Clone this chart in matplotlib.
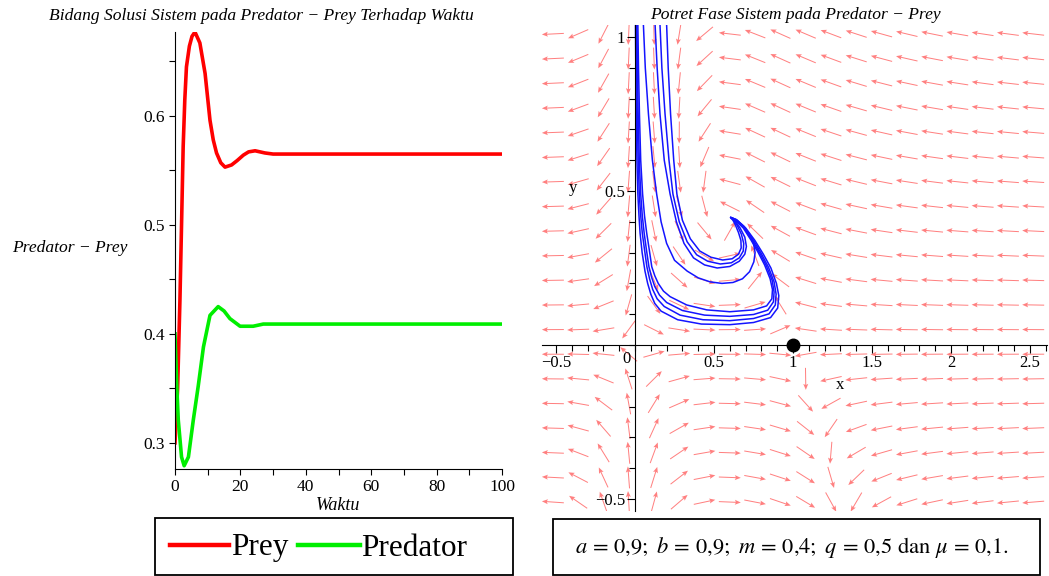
import numpy as np
import matplotlib.pyplot as plt
from matplotlib.patches import Rectangle
from matplotlib.lines import Line2D

plt.rcParams['font.family'] = 'Liberation Serif'
plt.rcParams['mathtext.fontset'] = 'stix'

# model parameters
a, b, m, q, mu = 0.9, 0.9, 0.4, 0.5, 0.1

# solution curves against time
t_prey = [0, 0.8, 1.5, 2.0, 2.5, 3.0, 3.5, 4.4, 5.2, 6.1, 7.6, 9.2, 10.7, 11.7, 12.7,
          14.0, 15.3, 17.3, 19.0, 20.9, 22.5, 24.5, 27.5, 30, 40, 60, 80, 100]
prey = [0.30, 0.35, 0.43, 0.50, 0.572, 0.615, 0.645, 0.664, 0.673, 0.677, 0.667, 0.639,
        0.596, 0.578, 0.566, 0.557, 0.553, 0.555, 0.559, 0.564, 0.567, 0.568, 0.566,
        0.565, 0.565, 0.565, 0.565, 0.565]
t_pred = [0, 0.5, 1.0, 2.0, 2.8, 4.1, 5.6, 7.1, 8.7, 10.7, 13.2, 15.0, 16.8, 19.9,
          23.9, 27, 40, 60, 80, 100]
predator = [0.40, 0.355, 0.321, 0.287, 0.279, 0.287, 0.321, 0.352, 0.388, 0.417, 0.425,
            0.421, 0.414, 0.407, 0.407, 0.409, 0.409, 0.409, 0.409, 0.409]

# phase trajectories (x = prey, y = predator)
traj_o1 = ([0.018, 0.022, 0.028, 0.036, 0.048, 0.06, 0.074, 0.09, 0.106, 0.125, 0.147, 0.18,
            0.222, 0.327, 0.454, 0.60, 0.75, 0.833, 0.866, 0.87, 0.855, 0.82, 0.78, 0.735,
            0.685, 0.635, 0.605],
           [1.04, 0.9, 0.75, 0.6, 0.49, 0.42, 0.363, 0.31, 0.254, 0.225, 0.2, 0.175, 0.157,
            0.13, 0.114, 0.108, 0.114, 0.127, 0.15, 0.18, 0.215, 0.26, 0.30, 0.34, 0.38,
            0.405, 0.414])
traj_o2 = ([0.012, 0.015, 0.02, 0.027, 0.036, 0.046, 0.058, 0.072, 0.088, 0.105, 0.125, 0.155,
            0.20, 0.30, 0.44, 0.60, 0.75, 0.84, 0.876, 0.88, 0.868, 0.832, 0.79, 0.742, 0.69,
            0.638, 0.607],
           [1.04, 0.9, 0.75, 0.6, 0.49, 0.42, 0.363, 0.31, 0.254, 0.22, 0.19, 0.162, 0.138,
            0.112, 0.097, 0.093, 0.099, 0.113, 0.14, 0.172, 0.21, 0.256, 0.298, 0.34, 0.38,
            0.406, 0.414])
traj_o3 = ([0.007, 0.01, 0.014, 0.02, 0.027, 0.036, 0.046, 0.06, 0.075, 0.092, 0.112, 0.14,
            0.185, 0.285, 0.43, 0.60, 0.75, 0.848, 0.888, 0.893, 0.88, 0.845, 0.80, 0.75,
            0.695, 0.64, 0.607],
           [1.04, 0.9, 0.75, 0.6, 0.49, 0.42, 0.363, 0.31, 0.254, 0.215, 0.18, 0.15, 0.125,
            0.097, 0.082, 0.079, 0.086, 0.101, 0.13, 0.165, 0.205, 0.252, 0.296, 0.34, 0.38,
            0.407, 0.414])
traj_o4 = ([0.003, 0.005, 0.008, 0.012, 0.018, 0.025, 0.032, 0.045, 0.063, 0.08, 0.1, 0.125,
            0.165, 0.27, 0.42, 0.60, 0.75, 0.858, 0.903, 0.91, 0.895, 0.86, 0.812, 0.758,
            0.70, 0.643, 0.608],
           [1.04, 0.9, 0.75, 0.6, 0.49, 0.42, 0.363, 0.3, 0.24, 0.2, 0.165, 0.135, 0.11,
            0.082, 0.068, 0.066, 0.073, 0.089, 0.12, 0.16, 0.2, 0.25, 0.295, 0.34, 0.38,
            0.407, 0.414])
traj_b = ([0.053, 0.065, 0.085, 0.11, 0.137, 0.165, 0.2, 0.25, 0.33, 0.40, 0.475, 0.55, 0.62,
           0.68, 0.725, 0.752, 0.76, 0.75, 0.725, 0.69, 0.65, 0.615],
          [1.04, 0.9, 0.75, 0.6, 0.49, 0.40, 0.33, 0.275, 0.24, 0.218, 0.205, 0.2, 0.203,
           0.215, 0.238, 0.27, 0.30, 0.33, 0.36, 0.385, 0.403, 0.412])
traj_c3 = ([0.127, 0.14, 0.158, 0.185, 0.222, 0.262, 0.31, 0.37, 0.44, 0.52, 0.60, 0.66,
            0.695, 0.705, 0.695, 0.665, 0.635, 0.612],
           [1.04, 0.9, 0.75, 0.6, 0.49, 0.40, 0.33, 0.283, 0.26, 0.25, 0.255, 0.272, 0.295,
            0.32, 0.35, 0.38, 0.402, 0.412])
traj_c2 = ([0.158, 0.17, 0.19, 0.215, 0.24, 0.28, 0.33, 0.39, 0.46, 0.54, 0.61, 0.66, 0.685,
            0.688, 0.673, 0.648, 0.625, 0.61],
           [1.04, 0.9, 0.75, 0.6, 0.49, 0.40, 0.335, 0.293, 0.272, 0.263, 0.267, 0.283,
            0.305, 0.33, 0.36, 0.387, 0.404, 0.412])
traj_c1 = ([0.20, 0.21, 0.225, 0.245, 0.265, 0.30, 0.35, 0.41, 0.48, 0.555, 0.615, 0.655,
            0.672, 0.67, 0.655, 0.635, 0.62, 0.608],
           [1.04, 0.9, 0.75, 0.6, 0.49, 0.405, 0.345, 0.305, 0.285, 0.276, 0.28, 0.295,
            0.315, 0.34, 0.365, 0.39, 0.405, 0.412])
trajectories = [traj_o1, traj_o2, traj_o3, traj_o4, traj_b, traj_c3, traj_c2, traj_c1]

# boundary equilibrium
eq_x, eq_y = [1.0], [0.0]


def rates(x, y):
    resp = x**2 / (x**2 + m**2)
    dx = x * (1 - x) - a * resp * y
    dy = b * resp * y - (mu + q) * y
    return dx, dy


W, H = 1049, 576
fig = plt.figure(figsize=(W / 100, H / 100), dpi=100)

# ---- left: solutions against time ----
ax1 = fig.add_axes([175 / W, 1 - 469 / H, 327 / W, 437 / H])
ax1.plot(t_prey, prey, color='#ff0000', lw=2.6, solid_joinstyle='round')
ax1.plot(t_pred, predator, color='#00ee00', lw=2.6, solid_joinstyle='round')
ax1.set_xlim(0, 100)
ax1.set_ylim(0.276, 0.677)
for s in ['top', 'right']:
    ax1.spines[s].set_visible(False)
ax1.set_xticks([0, 20, 40, 60, 80, 100])
ax1.set_xticks([10, 30, 50, 70, 90], minor=True)
ax1.set_yticks([0.3, 0.4, 0.5, 0.6])
ax1.set_yticklabels(['0.3', '0.4', '0.5', '0.6'])
ax1.set_yticks([0.35, 0.45, 0.55, 0.65], minor=True)
ax1.tick_params(which='both', direction='out', length=4, width=0.8, labelsize=12.5)
fig.text(261 / W, 1 - 16 / H, 'Bidang Solusi Sistem pada Predator \u2212 Prey Terhadap Waktu',
         ha='center', va='center', style='italic', fontsize=12.6)
fig.text(70 / W, 1 - 248 / H, 'Predator \u2212 Prey', ha='center', va='center',
         style='italic', fontsize=12.6)
fig.text(338 / W, 1 - 506 / H, 'Waktu', ha='center', va='center', style='italic', fontsize=13)

# ---- right: phase portrait ----
ax2 = fig.add_axes([541.8 / W, 1 - 511.3 / H, 505.6 / W, 486.6 / H])
ax2.set_xlim(-0.59, 2.61)
ax2.set_ylim(-0.54, 1.04)

gx, gy = np.meshgrid(np.linspace(-0.52, 2.52, 20), np.linspace(-0.51, 1.01, 20))
u, v = rates(gx, gy)
# direction on screen, all arrows the same length
su = u * 158.0
sv = v * 308.0
n = np.hypot(su, sv)
n[n == 0] = 1
ax2.quiver(gx, gy, su / n, sv / n, angles='uv', units='dots', scale_units='dots',
           scale=1 / 22.0, width=1.0, headwidth=5, headlength=6, headaxislength=5,
           pivot='middle', color='#ff8080', zorder=1)

for tx, ty in trajectories:
    ax2.plot(tx, ty, color='#1414ff', lw=1.1, zorder=2)
ax2.plot(eq_x, eq_y, 'o', color='black', ms=9, zorder=4, clip_on=False)

for s in ['top', 'right']:
    ax2.spines[s].set_visible(False)
ax2.spines['left'].set_position(('data', 0))
ax2.spines['bottom'].set_position(('data', 0))
ax2.set_xticks([-0.5, 0.5, 1, 1.5, 2, 2.5])
ax2.set_xticklabels(['\u22120.5', '0.5', '1', '1.5', '2', '2.5'])
ax2.set_xticks(np.arange(-0.5, 2.61, 0.1), minor=True)
ax2.set_yticks([-0.5, 0.5, 1])
ax2.set_yticklabels(['\u22120.5', '0.5', '1'])
ax2.set_yticks(np.arange(-0.5, 1.01, 0.1), minor=True)
ax2.tick_params(which='major', direction='out', length=6, width=0.8, labelsize=12, pad=1)
ax2.tick_params(which='minor', direction='out', length=4, width=0.8)
ax2.text(-0.03, -0.02, '0', ha='right', va='top', fontsize=12)
ax2.text(1.30, -0.13, 'x', ha='center', va='center', fontsize=12)
ax2.text(-0.39, 0.51, 'y', ha='center', va='center', fontsize=12)
fig.text(795 / W, 1 - 15 / H, 'Potret Fase Sistem pada Predator \u2212 Prey',
         ha='center', va='center', style='italic', fontsize=12.6)

# ---- boxes under the panels ----
fig.add_artist(Rectangle((155 / W, 1 - 575 / H), 358 / W, 57 / H, transform=fig.transFigure,
                         fill=False, edgecolor='black', lw=1.3))
fig.add_artist(Line2D([170 / W, 229 / W], [1 - 545 / H] * 2, transform=fig.transFigure,
                      color='#ff0000', lw=3.2))
fig.text(231 / W, 1 - 548 / H, 'Prey', ha='left', va='center', fontsize=22.5)
fig.add_artist(Line2D([298 / W, 360 / W], [1 - 545 / H] * 2, transform=fig.transFigure,
                      color='#00ee00', lw=3.2))
fig.text(361 / W, 1 - 548 / H, 'Predator', ha='left', va='center', fontsize=22.5)

fig.add_artist(Rectangle((553 / W, 1 - 575 / H), 487 / W, 56 / H, transform=fig.transFigure,
                         fill=False, edgecolor='black', lw=1.3))
fig.text(792 / W, 1 - 548 / H,
         r'$a\,=\,0{,}9;\ b\,=\,0{,}9;\ m\,=\,0{,}4;\ q\,=\,0{,}5$ dan $\mu\,=\,0{,}1.$',
         ha='center', va='center', fontsize=16.2, family='STIXGeneral')

fig.savefig('out.png', dpi=100)
